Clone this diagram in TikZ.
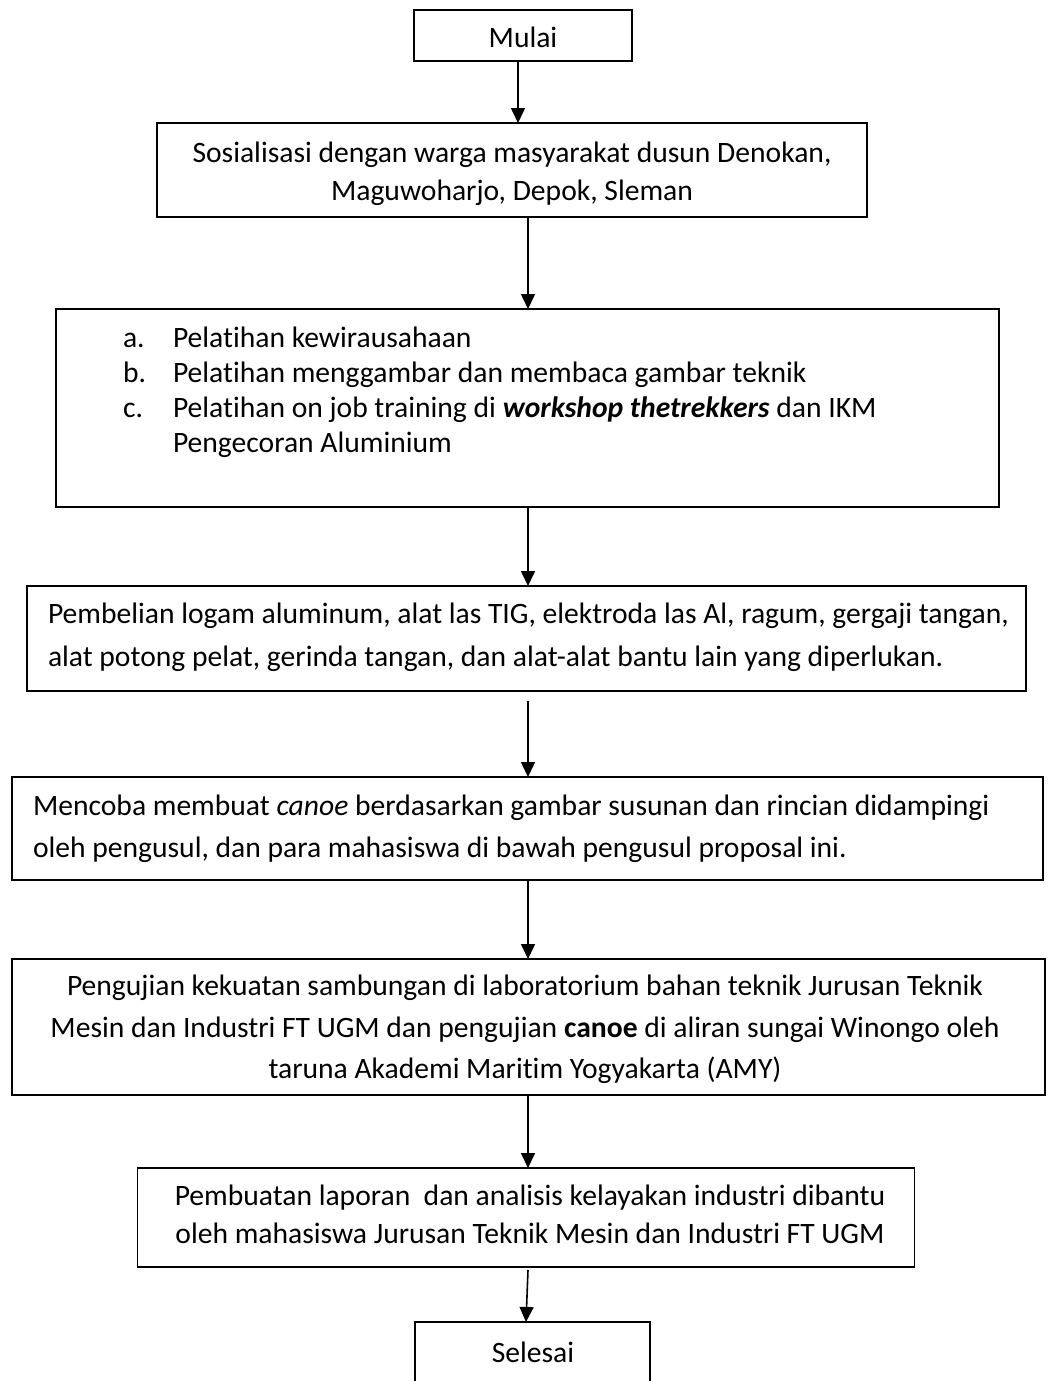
\documentclass[tikz,border=0pt]{standalone}
\usepackage{fontspec}
\setmainfont[Ligatures=NoCommon]{Carlito}
\usetikzlibrary{arrows.meta}
\begin{document}
\begin{tikzpicture}[x=1pt,y=-1pt,
  box/.style={draw, line width=1.6pt, inner sep=0pt, outer sep=0pt},
  txt/.style={inner sep=0pt, outer sep=0pt, font=\fontsize{29.6}{36}\selectfont},
  flow/.style={line width=1.6pt, -{Triangle[length=15pt,width=14pt]}}]
\useasboundingbox (0,0) rectangle (1048,1381);
\fill[white] (0,0) rectangle (1048,1381);
% boxes
\node[box, minimum width=218pt, minimum height=51pt]  (b1) at (523,35.5) {};
\node[box, minimum width=710pt, minimum height=94pt]  (b2) at (512,170) {};
\node[box, minimum width=943pt, minimum height=198pt] (b3) at (527.5,408) {};
\node[box, minimum width=999pt, minimum height=105pt] (b4) at (526.5,638.5) {};
\node[box, minimum width=1031pt, minimum height=103pt] (b5) at (527.5,828.5) {};
\node[box, minimum width=1033pt, minimum height=136pt] (b6) at (528.5,1027) {};
\node[box, minimum width=777pt, minimum height=99pt]  (b7) at (526,1217.5) {};
\node[box, minimum width=235pt, minimum height=73pt]  (b8) at (532.5,1358.5) {};
% texts
\node[txt, anchor=base] (t1) at (523,48) {Mulai};
\node[txt, anchor=base] (t2a) at (512,162) {Sosialisasi dengan warga masyarakat dusun Denokan,};
\node[txt, anchor=base] (t2b) at (512,200) {Maguwoharjo, Depok, Sleman};
\node[txt, anchor=base west] (t3an) at (123,347) {a.};
\node[txt, anchor=base west] (t3a) at (173,347) {Pelatihan kewirausahaan};
\node[txt, anchor=base west] (t3bn) at (123,382) {b.};
\node[txt, anchor=base west] (t3b) at (173,382) {Pelatihan menggambar dan membaca gambar teknik};
\node[txt, anchor=base west] (t3cn) at (123,417) {c.};
\node[txt, anchor=base west] (t3c) at (173,417) {Pelatihan on job training di \textbf{\textit{workshop thetrekkers}} dan IKM};
\node[txt, anchor=base west] (t3d) at (173,452) {Pengecoran Aluminium};
\node[txt, anchor=base west] (t4a) at (48,623) {Pembelian logam aluminum, alat las TIG, elektroda las Al, ragum, gergaji tangan,};
\node[txt, anchor=base west] (t4b) at (48,666) {alat potong pelat, gerinda tangan, dan alat-alat bantu lain yang diperlukan.};
\node[txt, anchor=base west] (t5a) at (33,815) {Mencoba membuat \textit{canoe} berdasarkan gambar susunan dan rincian didampingi};
\node[txt, anchor=base west] (t5b) at (33,857) {oleh pengusul, dan para mahasiswa di bawah pengusul proposal ini.};
\node[txt, anchor=base] (t6a) at (525,995) {Pengujian kekuatan sambungan di laboratorium bahan teknik Jurusan Teknik};
\node[txt, anchor=base] (t6b) at (525,1037) {Mesin dan Industri FT UGM dan pengujian \textbf{canoe} di aliran sungai Winongo oleh};
\node[txt, anchor=base] (t6c) at (525,1078) {taruna Akademi Maritim Yogyakarta (AMY)};
\node[txt, anchor=base] (t7a) at (530,1205) {Pembuatan laporan~ dan analisis kelayakan industri dibantu};
\node[txt, anchor=base] (t7b) at (530,1243) {oleh mahasiswa Jurusan Teknik Mesin dan Industri FT UGM};
\node[txt, anchor=base] (t8) at (533,1362) {Selesai};
% connectors
\coordinate (a1) at (518,0);
\coordinate (ax) at (528,0);
\coordinate (a4s) at (528,701);
\coordinate (a7s) at (528,1270);
\coordinate (a7e) at (526,0);
\draw[flow] (b1.south -| a1) -- (b2.north -| a1);
\draw[flow] (b2.south -| ax) -- (b3.north -| ax);
\draw[flow] (b3.south -| ax) -- (b4.north -| ax);
\draw[flow] (a4s) -- (b5.north -| a4s);
\draw[flow] (b5.south -| ax) -- (b6.north -| ax);
\draw[flow] (b6.south -| ax) -- (b7.north -| ax);
\draw[flow] (a7s) -- (b8.north -| a7e);
\end{tikzpicture}
\end{document}
